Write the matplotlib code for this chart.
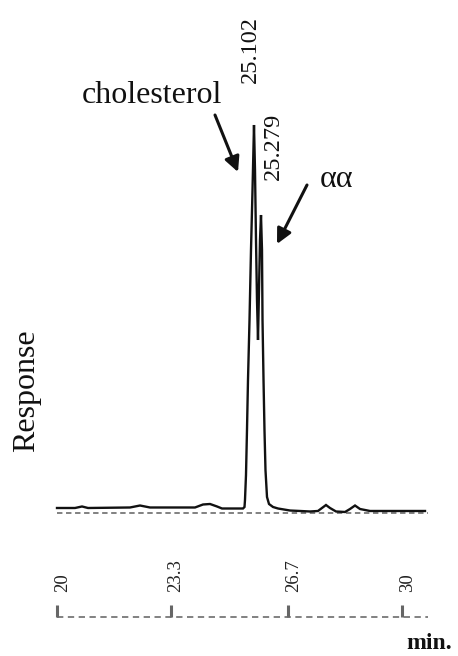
import matplotlib
matplotlib.use("Agg")
import matplotlib.pyplot as plt

# ---- data ----
time_min = [20.000, 20.522, 20.725, 20.899, 22.116, 22.406, 22.696, 24.000, 24.232, 24.435,
            24.638, 24.783, 25.391, 25.435, 25.449, 25.478, 25.507, 25.536, 25.580, 25.623,
            25.667, 25.710, 25.739, 25.768, 25.797, 25.826, 25.855, 25.884, 25.913, 25.942,
            25.957, 25.986, 26.014, 26.043, 26.087, 26.145, 26.261, 26.406, 26.754, 27.043,
            27.333, 27.565, 27.681, 27.797, 27.913, 28.087, 28.348, 28.493, 28.638, 28.783,
            29.072, 29.942, 30.667]
response = [1.29, 1.29, 1.68, 1.29, 1.42, 1.93, 1.42, 1.42, 2.19, 2.32,
            1.68, 1.16, 1.16, 1.55, 3.35, 9.79, 21.39, 34.28, 49.74, 67.78,
            83.25, 100.0, 88.40, 70.36, 54.90, 44.59, 57.47, 70.36, 76.80, 67.78,
            49.74, 34.28, 21.39, 11.08, 4.12, 2.32, 1.55, 1.16, 0.64, 0.52,
            0.39, 0.52, 1.29, 2.06, 1.29, 0.39, 0.26, 1.03, 1.93, 1.03,
            0.52, 0.52, 0.52]
tick_values = [20, 23.3, 26.7, 30]
tick_labels = ["20", "23.3", "26.7", "30"]
peak_labels = ["25.102", "25.279"]
compound_labels = ["cholesterol", "\u03b1\u03b1"]

# ---- layout ----
W, H = 458, 656
fig = plt.figure(figsize=(W / 100, H / 100), dpi=100)
ax = fig.add_axes([0, 0, 1, 1])
ax.set_xlim(18.3478, 31.6232)
ax.set_ylim(-36.856, 132.216)
ax.axis("off")

SERIF = ["Liberation Serif", "DejaVu Serif"]

def fp(x, y):
    # pixel (top-left origin) -> figure fraction
    return (x / W, 1 - y / H)

# baseline (dashed) and trace
ax.hlines(0, 20, 30.75, colors="#777777", linestyles=(0, (3, 2)), lw=1.3)
ax.plot(time_min, response, color="#111111", lw=1.7, solid_joinstyle="miter")

# bottom time axis
ax.hlines(-26.8, 20, 30.75, colors="#777777", linestyles=(0, (3.5, 2.5)), lw=1.3)
ax.vlines(tick_values, -26.8, -23.7, colors="#666666", lw=2.2)
for v, lab in zip(tick_values, tick_labels):
    ax.text(v + 0.15, -20.3, lab, rotation=90, ha="center", va="bottom",
            fontsize=13.5, family=SERIF, color="#222222")

# peak retention time labels
ax.text(25.60, 110.8, peak_labels[0], rotation=90, ha="center", va="bottom",
        fontsize=17.5, family=SERIF, color="#111111")
ax.text(26.27, 85.8, peak_labels[1], rotation=90, ha="center", va="bottom",
        fontsize=17.5, family=SERIF, color="#111111")

# compound labels
fig.text(*fp(82, 103), compound_labels[0], ha="left", va="baseline",
         fontsize=23, family=SERIF, color="#111111")
fig.text(*fp(320, 187), compound_labels[1], ha="left", va="baseline",
         fontsize=23, family=SERIF, color="#111111")

# arrows
arrow_kw = dict(arrowstyle="-|>,head_length=0.9,head_width=0.45", color="#111111",
                lw=2.2, shrinkA=0, shrinkB=0)
ax.annotate("", xy=fp(238, 172), xycoords="figure fraction",
            xytext=fp(215, 115), textcoords="figure fraction", arrowprops=arrow_kw)
ax.annotate("", xy=fp(277, 244), xycoords="figure fraction",
            xytext=fp(307, 185), textcoords="figure fraction", arrowprops=arrow_kw)

# axis titles
fig.text(*fp(27, 391), "Response", rotation=90, ha="center", va="center",
         fontsize=23, family=SERIF, color="#111111")
fig.text(*fp(406, 649), "min.", ha="left", va="baseline",
         fontsize=17, fontweight="bold", family=SERIF, color="#111111")

fig.savefig("out.png", dpi=100)
